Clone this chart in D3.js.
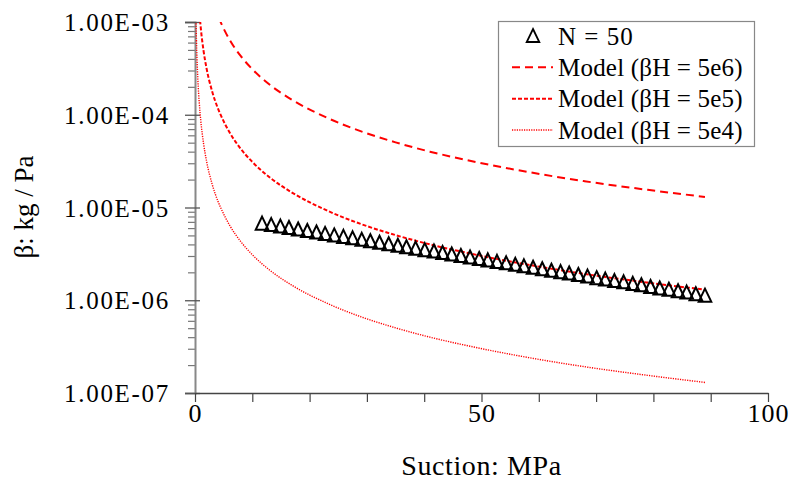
<!DOCTYPE html>
<html><head><meta charset="utf-8">
<script src="https://cdn.jsdelivr.net/npm/d3@7"></script>
<style>
html,body{margin:0;padding:0;background:#fff;}
text{font-family:"Liberation Serif","Times New Roman",serif;fill:#000;}
</style></head>
<body><svg id="c" width="792" height="480"></svg>
<script>
// ---- data ----
const xTickValues = [0, 50, 100];
const xMinorTicks = [0,10,20,30,40,50,60,70,80,90,100];
const yTickValues = [1e-7, 1e-6, 1e-5, 1e-4, 1e-3];
const yTickLabels = ["1.00E-07","1.00E-06","1.00E-05","1.00E-04","1.00E-03"];

// measured points (N = 50)
const measX = [11.7,13.3,14.9,16.4,18.0,19.6,21.2,22.7,24.3,25.9,27.5,29.1,30.6,32.2,33.8,35.4,36.9,38.5,40.1,41.7,
  43.2,44.8,46.4,48.0,49.6,51.1,52.7,54.3,55.9,57.4,59.0,60.6,62.2,63.8,65.3,66.9,68.5,70.1,71.6,73.2,
  74.8,76.4,77.9,79.5,81.1,82.7,84.3,85.8,87.4,89.0];
const measBeta = [6.70e-6,6.46e-6,6.23e-6,6.01e-6,5.79e-6,5.58e-6,5.38e-6,5.19e-6,5.00e-6,4.82e-6,
  4.65e-6,4.48e-6,4.32e-6,4.17e-6,4.02e-6,3.87e-6,3.73e-6,3.60e-6,3.47e-6,3.35e-6,
  3.23e-6,3.11e-6,3.00e-6,2.89e-6,2.79e-6,2.69e-6,2.59e-6,2.50e-6,2.41e-6,2.32e-6,
  2.24e-6,2.16e-6,2.08e-6,2.01e-6,1.94e-6,1.87e-6,1.80e-6,1.73e-6,1.67e-6,1.61e-6,
  1.56e-6,1.50e-6,1.45e-6,1.39e-6,1.34e-6,1.30e-6,1.25e-6,1.21e-6,1.16e-6,1.12e-6];

// model curves
const modelX  = [0.19,0.25,0.35,0.5,0.75,1,1.5,2,3,4,4.5,6,8,10,13,17,23,29,35,41,47,56,68,79,89];
const model5e4 = [9.7e-4,6.5e-4,4.0e-4,2.39e-4,1.33e-4,8.74e-5,4.86e-5,3.2e-5,1.78e-5,1.17e-5,9.9e-6,6.5e-6,4.28e-6,3.1e-6,2.12e-6,1.44e-6,9.3e-7,6.62e-7,5.04e-7,4.0e-7,3.29e-7,2.55e-7,1.92e-7,1.55e-7,1.30e-7];
const model5e5 = [9.7e-3,6.5e-3,4.0e-3,2.39e-3,1.33e-3,8.74e-4,4.86e-4,3.2e-4,1.78e-4,1.17e-4,9.9e-5,6.5e-5,4.28e-5,3.1e-5,2.12e-5,1.44e-5,9.3e-6,6.62e-6,5.04e-6,4.0e-6,3.29e-6,2.55e-6,1.92e-6,1.55e-6,1.30e-6];
const model5e6 = [9.7e-2,6.5e-2,4.0e-2,2.39e-2,1.33e-2,8.74e-3,4.86e-3,3.2e-3,1.78e-3,1.17e-3,9.9e-4,6.5e-4,4.28e-4,3.1e-4,2.12e-4,1.44e-4,9.3e-5,6.62e-5,5.04e-5,4.0e-5,3.29e-5,2.55e-5,1.92e-5,1.55e-5,1.30e-5];

const legendLabels = ["N = 50","Model (βH = 5e6)","Model (βH = 5e5)","Model (βH = 5e4)"];
const seriesStyles = [
  {name:"Model (βH = 5e6)", values:model5e6, dash:"8,5", width:2},
  {name:"Model (βH = 5e5)", values:model5e5, dash:"4,2", width:2},
  {name:"Model (βH = 5e4)", values:model5e4, dash:"1.2,1.2", width:1.4}
];

// ---- chart ----
const svg = d3.select("#c");
const L = 195, R = 768, T = 22, B = 393;
const x = d3.scaleLinear().domain([0,100]).range([L,R]);
const y = d3.scaleLog().domain([1e-7,1e-3]).range([B,T]);

svg.append("defs").append("clipPath").attr("id","clip")
  .append("rect").attr("x",L).attr("y",T).attr("width",R-L+2).attr("height",B-T);

// y minor ticks
const yMinor = [];
for (let e=-7; e<-3; e++) for (let m=2; m<=9; m++) yMinor.push(m*Math.pow(10,e));
const gyMinor = svg.append("g").attr("transform",`translate(${L},0)`)
  .call(d3.axisLeft(y).tickValues(yMinor).tickSize(7).tickFormat(""));
gyMinor.select(".domain").remove();
gyMinor.selectAll("line").attr("stroke","#777").attr("stroke-width",1.2);

// y major
const gy = svg.append("g").attr("transform",`translate(${L},0)`)
  .call(d3.axisLeft(y).tickValues(yTickValues).tickSize(10).tickPadding(17)
    .tickFormat((d,i)=>yTickLabels[yTickValues.indexOf(d)]));
gy.select(".domain").attr("stroke","#888").attr("stroke-width",2);
gy.selectAll(".tick line").attr("x2",-10).attr("x1",5).attr("stroke","#555").attr("stroke-width",1.3);
gy.selectAll(".tick text").style("font-size","25px").style("letter-spacing","1.7px")
  .attr("x",-25).attr("dy","0.34em");

// x axis
const gx = svg.append("g").attr("transform",`translate(0,${B})`)
  .call(d3.axisBottom(x).tickValues(xMinorTicks).tickSize(9).tickSizeOuter(0)
    .tickFormat(d=>xTickValues.includes(d)?String(d):""));
gx.select(".domain").attr("stroke","#444").attr("stroke-width",1.3);
gx.selectAll(".tick line").attr("stroke","#444").attr("stroke-width",1.2);
gx.selectAll(".tick text").style("font-size","26px").style("letter-spacing","1px")
  .attr("dy","0.95em").attr("y",4);

// axis titles
svg.append("text").attr("x",(L+R)/2).attr("y",475).attr("text-anchor","middle")
  .style("font-size","28px").style("letter-spacing","0.6px").text("Suction: MPa");
svg.append("text").attr("transform",`translate(33,207) rotate(-90)`).attr("text-anchor","middle")
  .style("font-size","27px").text("β: kg / Pa");

// model lines
const plot = svg.append("g").attr("clip-path","url(#clip)");
seriesStyles.forEach(s=>{
  const pts = modelX.map((v,i)=>[v,s.values[i]]);
  plot.append("path").datum(pts)
    .attr("fill","none").attr("stroke","#ff0000")
    .attr("stroke-width",s.width).attr("stroke-dasharray",s.dash)
    .attr("d", d3.line().x(d=>x(d[0])).y(d=>y(d[1])).curve(d3.curveMonotoneX));
});

// triangles
const triPath = (cx,cy)=>`M${cx},${cy-7}L${cx+6.3},${cy+6}L${cx-6.3},${cy+6}Z`;
svg.append("g").selectAll("path").data(measX.map((v,i)=>[v,measBeta[i]])).join("path")
  .attr("d",d=>triPath(x(d[0]),y(d[1])))
  .attr("fill","none").attr("stroke","#000").attr("stroke-width",2).attr("stroke-linejoin","miter");

// legend
const lg = svg.append("g");
lg.append("rect").attr("x",498.5).attr("y",21.5).attr("width",256).attr("height",125)
  .attr("fill","#fff").attr("stroke","#888").attr("stroke-width",1.2);
const rowY = d3.scalePoint().domain(legendLabels).range([36,130]);
legendLabels.forEach((lab,i)=>{
  const yy = rowY(lab);
  if (i===0) {
    lg.append("path").attr("d",triPath(533,yy)).attr("fill","none").attr("stroke","#000").attr("stroke-width",1.8);
  } else {
    const s = seriesStyles[i-1];
    lg.append("line").attr("x1",512).attr("x2",553).attr("y1",yy).attr("y2",yy)
      .attr("stroke","#ff0000").attr("stroke-width",s.width).attr("stroke-dasharray",s.dash);
  }
  lg.append("text").attr("x",558).attr("y",yy).attr("dy","0.34em").style("font-size","25px")
    .style("letter-spacing", i===0 ? "1px" : "0.2px").text(lab);
});
</script>
</body></html>
